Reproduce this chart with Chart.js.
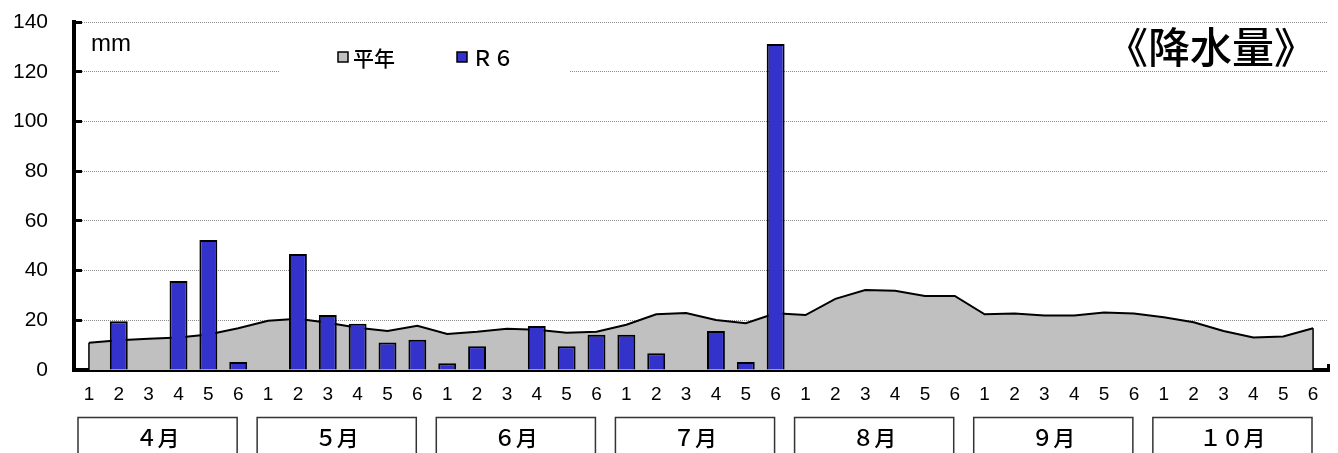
<!DOCTYPE html>
<html>
<head>
<meta charset="utf-8">
<script src="https://cdn.jsdelivr.net/npm/chart.js@4"></script>
<style>
  body { margin: 0; background: #fff; }
  canvas { display: block; }
</style>
</head>
<body>
<canvas id="rain-chart" width="1338" height="453"></canvas>
<script>
//DATA

var months = ["４月", "５月", "６月", "７月", "８月", "９月", "１０月"];
var periods = ["1", "2", "3", "4", "5", "6"];

// 平年 (normal), mm per half-decade period
var heinen = [
  11.0, 12.0, 12.6, 13.1, 14.3, 16.8,
  19.8, 20.6, 19.0, 17.0, 15.7, 17.8,
  14.5, 15.4, 16.6, 16.2, 15.0, 15.4,
  18.2, 22.4, 22.9, 20.1, 18.8, 22.8,
  22.1, 28.6, 32.2, 31.9, 29.8, 29.8,
  22.4, 22.7, 21.9, 21.9, 23.1, 22.7,
  21.2, 19.2, 15.7, 13.1, 13.5, 16.8,
];

// R6
var r6 = [
  0, 19.6, 0, 35.8, 52.3, 3.2,
  0, 46.7, 22.1, 18.6, 11.1, 12.2,
  2.7, 9.6, 0, 17.7, 9.6, 14.2,
  14.2, 6.7, 0, 15.7, 3.2, 131.1,
  null, null, null, null, null, null,
  null, null, null, null, null, null,
  null, null, null, null, null, null,
];

var yTicks = [0, 20, 40, 60, 80, 100, 120, 140];

var labels = [];
months.forEach(function () {
  periods.forEach(function (p) { labels.push(p); });
});

var jpFont = "'Noto Sans CJK JP', sans-serif";
var numFont = "'Liberation Sans', Arial, sans-serif";

//PLUGINS

// legend box + unit + title, drawn over the grid
var overlay = {
  id: "overlay",
  beforeDatasetsDraw: function (chart) {
    var ctx = chart.ctx;
    ctx.save();
    ctx.fillStyle = "#fff";
    ctx.fillRect(279, 36, 290, 44);

    var x = 338;
    chart.data.datasets.forEach(function (ds) {
      ctx.fillStyle = ds.legendColor;
      ctx.strokeStyle = "#000";
      ctx.lineWidth = 1.5;
      ctx.fillRect(x, 52, 10, 10);
      ctx.strokeRect(x, 52, 10, 10);
      ctx.fillStyle = "#000";
      ctx.font = "500 21px " + jpFont;
      ctx.textBaseline = "middle";
      ctx.textAlign = "left";
      ctx.fillText(ds.label, x + 15, 58);
      x += 119;
    });

    ctx.font = "24px " + numFont;
    ctx.fillText("mm", 91, 44);

    ctx.font = "500 42px " + jpFont;
    ctx.textAlign = "right";
    ctx.fillText("《降水量》", 1316, 47);
    ctx.restore();
  },
  afterDatasetDraw: function (chart, args) {
    // close the sides of the 平年 area
    if (args.index !== 0) return;
    var pts = args.meta.data;
    var base = chart.scales.y.getPixelForValue(0);
    var ctx = chart.ctx;
    ctx.save();
    ctx.strokeStyle = "#000";
    ctx.lineWidth = 1.5;
    ctx.beginPath();
    ctx.moveTo(pts[0].x, pts[0].y);
    ctx.lineTo(pts[0].x, base);
    ctx.moveTo(pts[pts.length - 1].x, pts[pts.length - 1].y);
    ctx.lineTo(pts[pts.length - 1].x, base);
    ctx.stroke();
    ctx.restore();
  },
  afterDraw: function (chart) {
    // month boxes under the period labels
    var xs = chart.scales.x;
    var ctx = chart.ctx;
    var half = (xs.getPixelForValue(1) - xs.getPixelForValue(0)) / 2;
    ctx.save();
    ctx.strokeStyle = "#333";
    ctx.lineWidth = 1.5;
    ctx.font = "500 22px " + jpFont;
    ctx.fillStyle = "#000";
    ctx.textAlign = "center";
    ctx.textBaseline = "middle";
    months.forEach(function (m, i) {
      var left = xs.getPixelForValue(i * 6) - half + 4;
      var right = xs.getPixelForValue(i * 6 + 5) + half - 16;
      ctx.strokeRect(left, 417.5, right - left, 50);
      ctx.fillText(m, (left + right) / 2, 438);
    });
    ctx.restore();
  },
};

//CHART

var ctx = document.getElementById("rain-chart").getContext("2d");
var chart = new Chart(ctx, {
  data: {
    labels: labels,
    datasets: [
      {
        type: "line",
        label: "平年",
        legendColor: "#c0c0c0",
        data: heinen,
        order: 2,
        fill: "origin",
        backgroundColor: "#c0c0c0",
        borderColor: "#000",
        borderWidth: 2,
        pointRadius: 0,
        tension: 0,
      },
      {
        type: "bar",
        label: "Ｒ６",
        legendColor: "#3333cc",
        data: r6,
        order: 1,
        backgroundColor: "#3333cc",
        borderColor: "#000",
        borderWidth: function (c) { return c.raw ? 2 : 0; },
        categoryPercentage: 1,
        barPercentage: 0.6,
      },
    ],
  },
  plugins: [overlay],
  options: {
    responsive: false,
    animation: false,
    layout: { padding: { top: 22, right: 10, left: 0, bottom: 0 } },
    plugins: {
      legend: { display: false },
      tooltip: { enabled: false },
    },
    scales: {
      x: {
        offset: true,
        grid: {
          offset: true,
          color: "rgba(0,0,0,0)",
          tickColor: "#000",
          tickWidth: 3,
          tickLength: -6,
        },
        border: { color: "#000", width: 4 },
        ticks: {
          color: "#000",
          font: { family: numFont, size: 19 },
          padding: 19,
          autoSkip: false,
          maxRotation: 0,
        },
        afterFit: function (s) {
          s.height = 83;
          s.paddingLeft = 0;
          s.paddingRight = 0;
        },
      },
      y: {
        min: 0,
        max: 140,
        afterBuildTicks: function (s) {
          s.ticks = yTicks.map(function (v) { return { value: v }; });
        },
        grid: {
          color: "#8a8a8a",
          lineWidth: 1,
          tickColor: "#000",
          tickWidth: 3,
          tickLength: -8,
        },
        border: { color: "#000", width: 4, dash: [1, 1] },
        ticks: {
          color: "#000",
          font: { family: numFont, size: 21 },
          padding: 34,
        },
        afterFit: function (s) {
          s.width = 74;
          s.paddingTop = 0;
          s.paddingBottom = 0;
        },
      },
    },
  },
});
</script>
</body>
</html>
